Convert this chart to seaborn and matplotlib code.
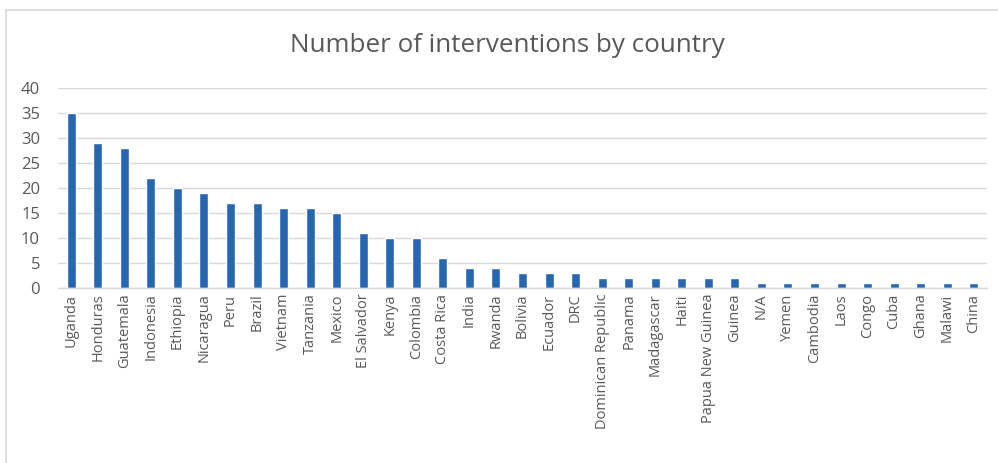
import matplotlib
matplotlib.use("Agg")
import matplotlib.pyplot as plt
import seaborn as sns
import pandas as pd
from matplotlib.lines import Line2D

countries = ["Uganda", "Honduras", "Guatemala", "Indonesia", "Ethiopia", "Nicaragua", "Peru",
             "Brazil", "Vietnam", "Tanzania", "Mexico", "El Salvador", "Kenya", "Colombia",
             "Costa Rica", "India", "Rwanda", "Bolivia", "Ecuador", "DRC", "Dominican Republic",
             "Panama", "Madagascar", "Haiti", "Papua New Guinea", "Guinea", "N/A", "Yemen",
             "Cambodia", "Laos", "Congo", "Cuba", "Ghana", "Malawi", "China"]
counts = [35, 29, 28, 22, 20, 19, 17, 17, 16, 16, 15, 11, 10, 10, 6, 4, 4, 3, 3, 3, 2,
          2, 2, 2, 2, 2, 1, 1, 1, 1, 1, 1, 1, 1, 1]
yticks = [0, 5, 10, 15, 20, 25, 30, 35, 40]
title = "Number of interventions by country"

df = pd.DataFrame({"country": countries, "count": counts})

sns.set_theme(style="white")
plt.rcParams['font.family'] = ['Open Sans', 'DejaVu Sans']

W, H = 998, 463
fig = plt.figure(figsize=(W / 100, H / 100), dpi=100)
ax = fig.add_axes([58 / W, 1 - 288 / H, (987 - 58) / W, (288 - 88) / H])

sns.barplot(data=df, x="country", y="count", color="#2767B1", width=0.34,
            saturation=1, ax=ax)

ax.set_ylim(0, 40)
ax.set_yticks(yticks)
ax.set_xlim(-0.5, len(countries) - 0.5)
ax.grid(axis="y", color="#D9D9D9", linewidth=1)
ax.set_axisbelow(True)
for s in ["top", "right", "left"]:
    ax.spines[s].set_visible(False)
ax.spines["bottom"].set_color("#D9D9D9")
ax.spines["bottom"].set_linewidth(1)
ax.set_xlabel("")
ax.set_ylabel("")
ax.tick_params(axis="both", length=0, colors="#595959")
ax.tick_params(axis="y", pad=13, labelsize=12)
ax.tick_params(axis="x", pad=4, labelsize=10.5)
plt.setp(ax.get_xticklabels(), rotation=90)

fig.text(507 / W, 1 - 45 / H, title, ha="center", va="center",
         fontsize=18.7, color="#595959")

# chart border
bc = "#D9D9D9"
fig.add_artist(Line2D([6 / W, 6 / W], [0, 1 - 10 / H], color=bc, lw=1.2))
fig.add_artist(Line2D([6 / W, 1], [1 - 10 / H, 1 - 10 / H], color=bc, lw=1.2))

fig.savefig("out.png", dpi=100)
